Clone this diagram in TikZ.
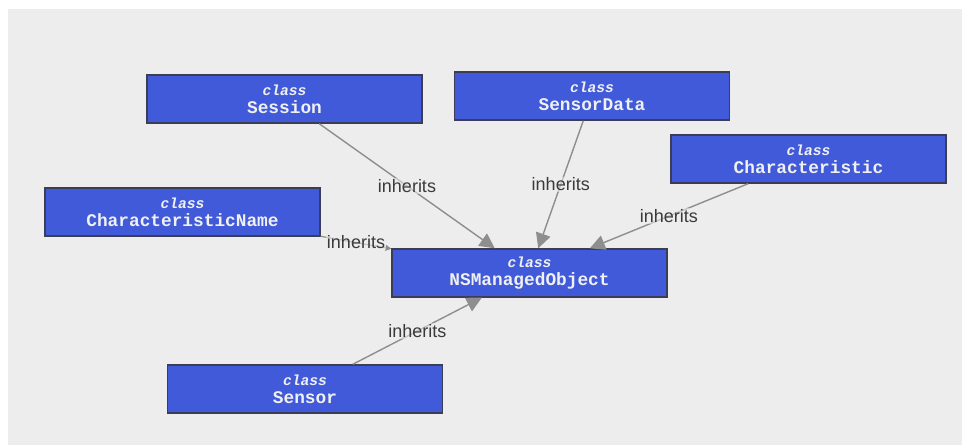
\documentclass[tikz,border=0pt]{standalone}
\usepackage{fontspec}
\setmainfont{Liberation Sans}
\newfontfamily\monobold[BoldFont={Liberation Mono Bold},BoldItalicFont={Liberation Mono Bold Italic}]{Liberation Mono}
\usetikzlibrary{arrows.meta}
\definecolor{canvas}{HTML}{EDEDED}
\definecolor{boxblue}{HTML}{405AD9}
\definecolor{boxedge}{HTML}{3A3D55}
\definecolor{edgegray}{HTML}{8E8E8E}
\definecolor{labelgray}{HTML}{3A3A3A}
\newcommand{\clsbox}[1]{{\fontsize{14.6}{17.6}\selectfont\monobold\bfseries\itshape class}\\{\monobold\bfseries #1}}
\begin{document}
\begin{tikzpicture}[x=1pt,y=-1pt,
  classbox/.style={draw=boxedge,line width=1.4pt,fill=boxblue,text=white!94!black,
    minimum width=275pt,minimum height=48pt,inner sep=0pt,align=center,
    font=\fontsize{17.8}{17.6}\selectfont},
  inh/.style={draw=edgegray,line width=1.4pt,-{Triangle[length=15pt,width=15pt]}},
  inhshort/.style={draw=edgegray,line width=1.2pt,-{Triangle[length=6pt,width=6pt]}},
  lbl/.style={text=labelgray,font=\fontsize{18}{20}\selectfont,inner sep=1pt,
    fill=canvas,fill opacity=0.55,text opacity=1}]
  % page and canvas
  \useasboundingbox (0,0) rectangle (962,445);
  \fill[white] (0,0) rectangle (962,445);
  \fill[canvas] (8,9) rectangle (962,445);
  % classes
  \node[classbox] (session) at (284.5,99) {\clsbox{Session}};
  \node[classbox] (sensordata) at (592,96) {\clsbox{SensorData}};
  \node[classbox] (characteristic) at (808.5,159) {\clsbox{Characteristic}};
  \node[classbox] (charname) at (182.5,212) {\clsbox{CharacteristicName}};
  \node[classbox] (nsmo) at (529.5,273) {\clsbox{NSManagedObject}};
  \node[classbox] (sensor) at (305,389) {\clsbox{Sensor}};
  % inheritance edges
  \draw[inh] (session) -- node[lbl] {inherits} (nsmo);
  \draw[inh] (sensordata) -- node[lbl] {inherits} (nsmo);
  \draw[inh] (characteristic) -- node[lbl] {inherits} (nsmo);
  \draw[inhshort] (charname) -- node[lbl] {inherits} (nsmo);
  \draw[inh] (sensor) -- node[lbl] {inherits} (nsmo);
\end{tikzpicture}
\end{document}
